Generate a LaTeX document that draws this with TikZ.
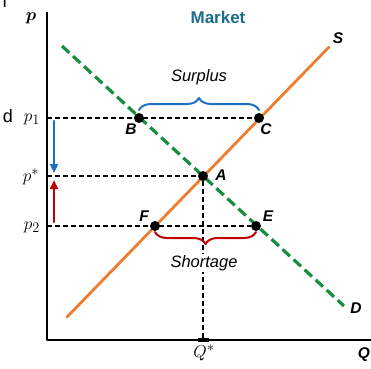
\documentclass[tikz,border=0pt]{standalone}
\usepackage{amsmath, amssymb}
\usepackage{fontspec}
\setsansfont{Liberation Sans}
\usepackage{tikz}
\usetikzlibrary{
    arrows.meta,
    calc,
    decorations.pathreplacing
}
\definecolor{supplyorange}{RGB}{237,125,49}
\definecolor{demandgreen}{RGB}{24,140,64}
\definecolor{surplusblue}{RGB}{30,110,195}
\definecolor{shortred}{RGB}{192,0,0}
\definecolor{markettitle}{RGB}{28,108,140}

\begin{document}
\begin{tikzpicture}[x=1pt,y=-1pt,line cap=round,line join=round,
   axis/.style={black,line width=2.8pt,line cap=butt},
   supply/.style={supplyorange,line width=2.8pt},
   demand/.style={demandgreen,line width=3.2pt,line cap=butt,dash pattern=on 10pt off 5pt},
   guide/.style={black,line width=1.4pt,line cap=butt,dash pattern=on 5pt off 3pt},
   dot/.style={circle,fill=black,inner sep=0pt,minimum size=10pt},
   lbl/.style={font=\sffamily\bfseries\itshape\fontsize{15.5}{16}\selectfont},
   note/.style={font=\sffamily\itshape\fontsize{16.5}{18}\selectfont},
   mth/.style={font=\fontsize{19}{20}\selectfont},
   pbrace/.style={line width=2pt,decorate,decoration={brace,amplitude=12pt}},
   move/.style={line width=2.4pt,-{Triangle[length=9pt,width=8pt]}}]
\useasboundingbox (0,0) rectangle (371,368);
\def\ox{47}   % price axis
\def\oy{340}  % quantity axis
\def\pone{118}
\def\pstar{176}
\def\ptwo{226}
\def\qstar{203}
% axes
\coordinate (O) at (\ox,\oy);
\coordinate (ptop) at (\ox,12);
\coordinate (qend) at (371,\oy);
\draw[axis] (ptop) -- (O) -- (qend);
\draw[line width=3.6pt,line cap=butt] (\qstar-5,\oy) -- (\qstar+6,\oy);
% supply and demand
\coordinate (S0) at (67,317);
\coordinate (S1) at (329,47);
\coordinate (D0) at (62,46);
\coordinate (D1) at (344,306);
\draw[supply] (S0) -- (S1);
\draw[demand] (D0) -- (D1);
% points on the curves
\node[dot] (B) at (139,\pone) {};
\node[dot] (C) at (259,\pone) {};
\node[dot] (A) at (\qstar,\pstar) {};
\node[dot] (F) at (155,\ptwo) {};
\node[dot] (E) at (256,\ptwo) {};
% price and quantity levels
\coordinate (p1ax) at (\ox,\pone);
\coordinate (psax) at (\ox,\pstar);
\coordinate (p2ax) at (\ox,\ptwo);
\coordinate (qsax) at (\qstar,\oy);
\draw[guide] (p1ax) -- (C);
\draw[guide] (psax) -- (A);
\draw[guide] (p2ax) -- (E);
\draw[guide] (A) -- (qsax);
% surplus and shortage
\draw[pbrace,surplusblue] ($(B)+(0,-8)$) -- ($(C)+(0,-8)$);
\draw[pbrace,shortred] ($(E)+(0,6)$) -- ($(F)+(0,6)$);
\node[note] (surplus) at (199,77) {Surplus};
\node[note,fill=white,inner sep=1pt] (shortage) at (204,263) {Shortage};
% price moves back to p*
\coordinate (dn0) at (54,121);
\coordinate (dn1) at (54,173);
\coordinate (up0) at (54,222);
\coordinate (up1) at (54,180);
\draw[move,surplusblue] (dn0) -- (dn1);
\draw[move,shortred] (up0) -- (up1);
% labels
\node[font=\sffamily\bfseries\fontsize{17}{18}\selectfont,text=markettitle] (title) at (218,17) {Market};
\node[lbl] (Slbl) at (338,38) {S};
\node[lbl] (Dlbl) at (356,308) {D};
\node[lbl] (Albl) at (221,175) {A};
\node[lbl] (Blbl) at (131,129) {B};
\node[lbl] (Clbl) at (266,129) {C};
\node[lbl] (Elbl) at (268,216) {E};
\node[lbl] (Flbl) at (144,216) {F};
\node[lbl] (Qlbl) at (364,355) {Q};
\node[mth] (plbl) at (31,18) {$\boldsymbol{p}$};
\node[mth] (p1lbl) at (32,119) {$p_1$};
\node[mth] (pslbl) at (31,177) {$p^*$};
\node[mth] (p2lbl) at (32,227) {$p_2$};
\node[mth] (qslbl) at (204,353) {$Q^*$};
% cut-off text at the left edge
\node[font=\sffamily\fontsize{18}{18}\selectfont,anchor=base] (fcut) at (5,7) {f};
\node[font=\sffamily\fontsize{18}{18}\selectfont,anchor=base] (dcut) at (8,122) {d};
\end{tikzpicture}
\end{document}
